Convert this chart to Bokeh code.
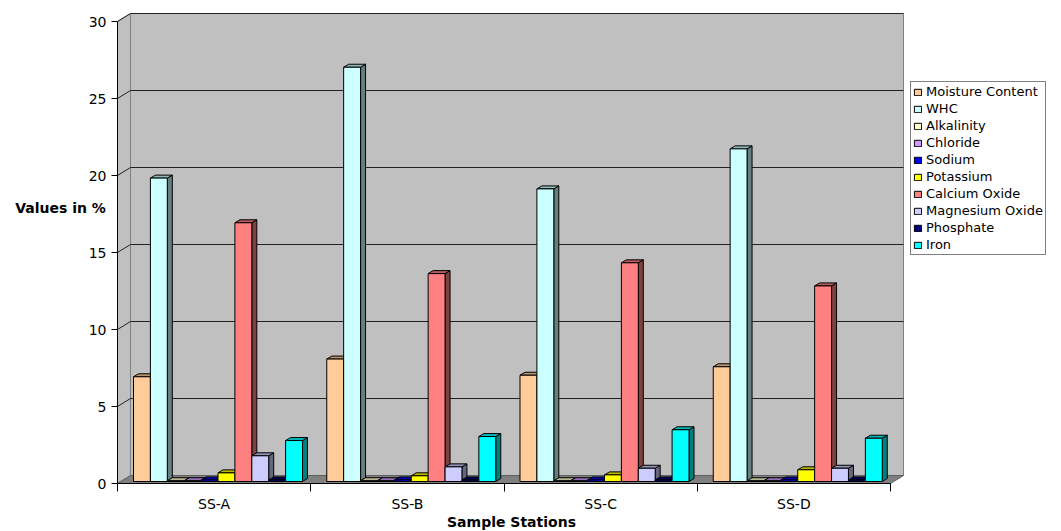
from bokeh.plotting import figure
from bokeh.models import (Range1d, FixedTicker, Legend, LegendItem, Label)
from bokeh.embed import file_html
from bokeh.resources import INLINE

# ---------------- data ----------------
stations = ["SS-A", "SS-B", "SS-C", "SS-D"]
parameters = ["Moisture Content", "WHC", "Alkalinity", "Chloride", "Sodium",
              "Potassium", "Calcium Oxide", "Magnesium Oxide", "Phosphate", "Iron"]
moisture_content = [6.8, 7.95, 6.9, 7.45]
whc = [19.7, 26.9, 19.0, 21.6]
alkalinity = [0.05, 0.05, 0.05, 0.05]
chloride = [0.05, 0.05, 0.05, 0.05]
sodium = [0.1, 0.1, 0.1, 0.1]
potassium = [0.56, 0.37, 0.43, 0.76]
calcium_oxide = [16.8, 13.5, 14.2, 12.7]
magnesium_oxide = [1.67, 0.95, 0.86, 0.86]
phosphate = [0.1, 0.1, 0.1, 0.1]
iron = [2.66, 2.92, 3.36, 2.81]
y_ticks = [0, 5, 10, 15, 20, 25, 30]

series = [moisture_content, whc, alkalinity, chloride, sodium,
          potassium, calcium_oxide, magnesium_oxide, phosphate, iron]
colors = ["#FFCC99", "#CCFFFF", "#FFFFCC", "#CC99FF", "#0000FF",
          "#FFFF00", "#FF8080", "#CCCCFF", "#000080", "#00FFFF"]


def shade(hex_color, f):
    h = hex_color.lstrip("#")
    r, g, b = (int(h[i:i + 2], 16) for i in (0, 2, 4))
    return "#%02x%02x%02x" % (int(r * f), int(g * f), int(b * f))


# ---------------- geometry (pixel scale helpers) ----------------
PX_X = 193.25   # px per category
PX_Y = 15.4     # px per value unit
W, H = 1061, 531
AX_X, AX_Y = 117, 483   # canvas position of the axes origin

DXW, DYW = 13 / PX_X, 8 / PX_Y      # wall depth
DXB, DYB = 5 / PX_X, 3 / PX_Y       # bar depth
BAR_OFF = 16 / PX_X
BAR_W = 16.9 / PX_X
BASE = 2 / PX_Y
NCAT = len(stations)
VMAX = y_ticks[-1]

p = figure(width=W, height=H, output_backend="svg", toolbar_location=None,
           x_range=Range1d(-AX_X / PX_X, (W - AX_X) / PX_X),
           y_range=Range1d((AX_Y - H) / PX_Y, AX_Y / PX_Y),
           min_border=0, min_border_left=0, min_border_right=0,
           min_border_top=0, min_border_bottom=0)
p.outline_line_color = None
p.xgrid.visible = False
p.ygrid.visible = False
p.background_fill_color = "white"
p.border_fill_color = "white"

# walls and floor
p.patch([0, DXW, DXW, 0], [0, DYW, VMAX + DYW, VMAX],
        fill_color="#c0c0c0", line_color="#808080", line_width=1)
p.quad(left=[DXW], right=[NCAT + DXW], bottom=[DYW], top=[VMAX + DYW],
       fill_color="#c0c0c0", line_color="#808080", line_width=1)
p.patch([0, NCAT, NCAT + DXW, DXW], [0, 0, DYW, DYW],
        fill_color="#808080", line_color="#606060", line_width=1)

# gridlines
gv = [v for v in y_ticks if v > 0]
p.segment(x0=[DXW] * len(gv), y0=[v + DYW for v in gv],
          x1=[NCAT + DXW] * len(gv), y1=[v + DYW for v in gv],
          line_color="#222222", line_width=1)
p.segment(x0=[0] * len(gv), y0=gv, x1=[DXW] * len(gv), y1=[v + DYW for v in gv],
          line_color="#222222", line_width=1)

# bars
fronts = []
for j, (vals, col) in enumerate(zip(series, colors)):
    lefts = [i + BAR_OFF + j * BAR_W for i in range(NCAT)]
    rights = [l + BAR_W for l in lefts]
    tops = [BASE + v for v in vals]
    side_xs = [[r, r + DXB, r + DXB, r] for r in rights]
    side_ys = [[BASE, BASE + DYB, t + DYB, t] for t in tops]
    top_xs = [[l, r, r + DXB, l + DXB] for l, r in zip(lefts, rights)]
    top_ys = [[t, t, t + DYB, t + DYB] for t in tops]
    p.patches(side_xs, side_ys, fill_color=shade(col, 0.5), line_color="black", line_width=1)
    p.patches(top_xs, top_ys, fill_color=shade(col, 0.72), line_color="black", line_width=1)
    r = p.quad(left=lefts, right=rights, bottom=[BASE] * NCAT, top=tops,
               fill_color=col, line_color="black", line_width=1)
    fronts.append(r)

# axes (fixed at the data origin)
FONT = "DejaVu Sans"
ya = p.yaxis[0]
ya.fixed_location = 0
ya.ticker = FixedTicker(ticks=y_ticks)
ya.bounds = (0, VMAX)
ya.axis_line_color = "black"
ya.major_tick_out = 6
ya.major_tick_in = 0
ya.minor_tick_line_color = None
ya.major_label_standoff = 5
ya.major_label_text_font = FONT
ya.major_label_text_font_size = "14px"
ya.major_label_text_color = "black"

xa = p.xaxis[0]
xa.fixed_location = 0
xa.ticker = FixedTicker(ticks=[i + 0.5 for i in range(NCAT)],
                        minor_ticks=list(range(NCAT + 1)))
xa.major_label_overrides = {i + 0.5: s for i, s in enumerate(stations)}
xa.bounds = (0, NCAT)
xa.axis_line_color = "black"
xa.major_tick_out = 0
xa.major_tick_in = 0
xa.major_tick_line_color = None
xa.minor_tick_out = 8
xa.minor_tick_in = 0
xa.minor_tick_line_color = "black"
xa.major_label_standoff = 4
xa.major_label_text_font = FONT
xa.major_label_text_font_size = "14px"
xa.major_label_text_color = "black"

# axis titles
p.add_layout(Label(x=(60 - AX_X) / PX_X, y=(AX_Y - 207) / PX_Y, text="Values in %",
                   text_align="center", text_baseline="middle", text_font=FONT,
                   text_font_size="14px", text_font_style="bold", text_color="black"))
p.add_layout(Label(x=(511 - AX_X) / PX_X, y=(AX_Y - 521) / PX_Y, text="Sample Stations",
                   text_align="center", text_baseline="middle", text_font=FONT,
                   text_font_size="14px", text_font_style="bold", text_color="black"))

# legend
legend = Legend(items=[LegendItem(label=n, renderers=[r]) for n, r in zip(parameters, fronts)],
                location=(910, H - 255), orientation="vertical",
                border_line_color="black", border_line_width=1,
                background_fill_color="white", background_fill_alpha=1,
                padding=2, spacing=2, margin=0, label_height=15,
                glyph_height=8, glyph_width=9, label_standoff=4,
                label_text_font=FONT, label_text_font_size="13px",
                label_text_color="black")
p.add_layout(legend)

open("out.html", "w").write(file_html(p, INLINE))
